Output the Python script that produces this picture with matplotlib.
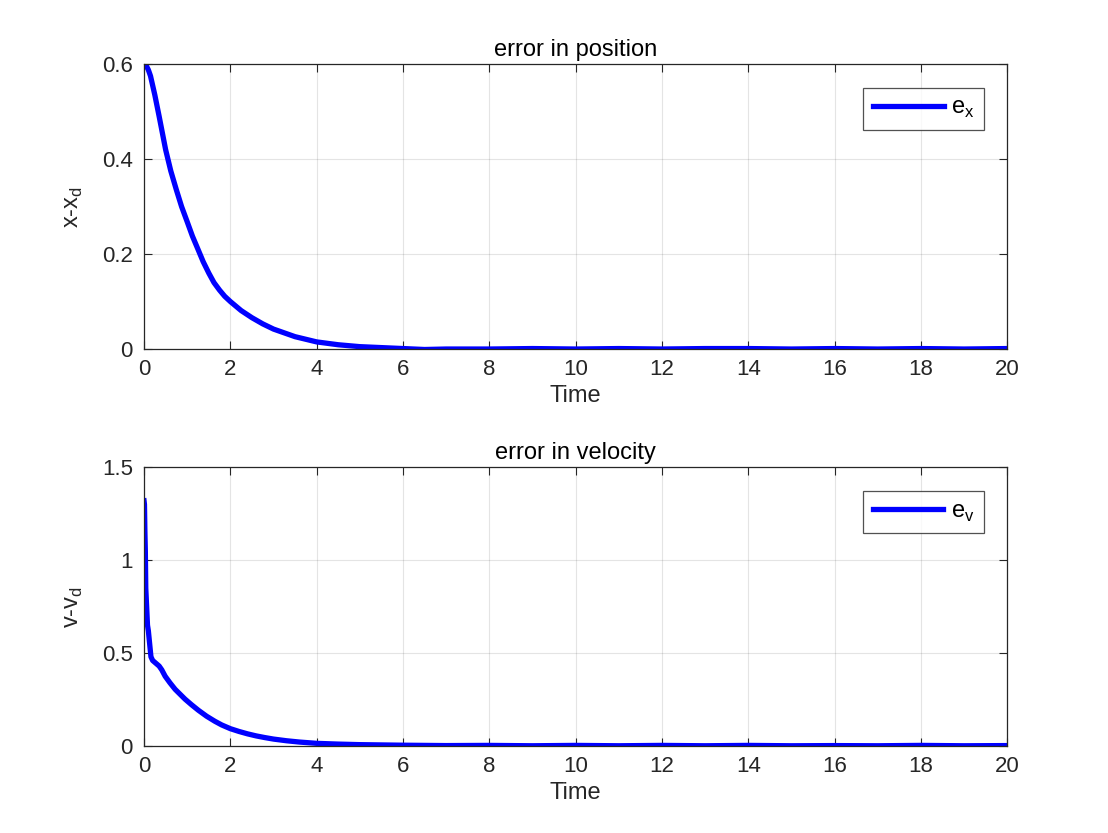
import numpy as np
import matplotlib
matplotlib.use('Agg')
import matplotlib.pyplot as plt

plt.rcParams['font.family'] = ['Liberation Sans', 'DejaVu Sans']
plt.rcParams['mathtext.fontset'] = 'custom'
plt.rcParams['mathtext.rm'] = 'Liberation Sans'

# error in position
t_x = [0, 0.05, 0.1, 0.15, 0.25, 0.35, 0.5, 0.62, 0.75, 0.87, 1.0, 1.12, 1.25,
       1.37, 1.5, 1.62, 1.75, 1.87, 2.0, 2.25, 2.5, 2.75, 3.0, 3.5, 4.0,
       4.5, 5.0, 5.5, 6.0, 6.5, 7, 8, 9, 10, 11, 12, 13, 14, 15, 16, 17, 18, 19, 20]
e_x = [0.6, 0.597, 0.588, 0.575, 0.535, 0.49, 0.42, 0.375, 0.335, 0.3, 0.268,
       0.238, 0.21, 0.184, 0.16, 0.14, 0.124, 0.111, 0.1, 0.081, 0.066,
       0.053, 0.042, 0.026, 0.015, 0.009, 0.005, 0.003, 0.001, -0.001, 0.0,
       0.0, 0.001, 0.0, 0.001, 0.0, 0.001, 0.001, 0.0, 0.001, 0.0, 0.001,
       0.0, 0.001]

# error in velocity
t_v = [0.0, 0.01, 0.02, 0.03, 0.04, 0.06, 0.08, 0.1, 0.13, 0.16, 0.2, 0.25, 0.3,
       0.35, 0.41, 0.49, 0.6, 0.72, 0.85, 0.95, 1.1, 1.26, 1.45, 1.64, 1.8,
       2.0, 2.2, 2.4, 2.6, 2.8, 3.0, 3.3, 3.6, 4.0, 4.5, 5.0, 6, 7, 8, 9, 10,
       11, 12, 13, 14, 15, 16, 17, 18, 19, 20]
e_v = [1.32, 1.3, 1.15, 1.05, 0.85, 0.75, 0.65, 0.62, 0.55, 0.48, 0.46, 0.45,
       0.44, 0.43, 0.41, 0.375, 0.34, 0.305, 0.275, 0.252, 0.222, 0.192,
       0.16, 0.133, 0.113, 0.093, 0.078, 0.065, 0.054, 0.045, 0.037, 0.028,
       0.021, 0.014, 0.01, 0.007, 0.004, 0.002, 0.003, 0.001, 0.003, 0.001,
       0.003, 0.001, 0.003, 0.001, 0.002, 0.001, 0.003, 0.001, 0.002]

blue = '#0000ff'
edge = '#262626'

fig = plt.figure(figsize=(11.08, 8.33), dpi=100)
ax1 = fig.add_axes([0.130, 0.581, 0.779, 0.342])
ax2 = fig.add_axes([0.130, 0.1045, 0.779, 0.3345])

def style(ax, ylim, yticks, yticklabels, ylabel, title, leg):
    ax.set_xlim(0, 20)
    ax.set_ylim(*ylim)
    ax.set_xticks(range(0, 21, 2))
    ax.set_yticks(yticks)
    ax.set_yticklabels(yticklabels)
    ax.grid(True, color='#262626', alpha=0.12, linewidth=0.8)
    ax.tick_params(direction='in', top=True, right=True, length=6,
                   color=edge, labelcolor=edge, labelsize=16)
    ax.tick_params(axis='x', pad=7)
    ax.tick_params(axis='y', pad=8)
    for s in ax.spines.values():
        s.set_color(edge)
        s.set_linewidth(0.9)
    ax.set_xlabel('Time', fontsize=17, color=edge, labelpad=4)
    ax.set_ylabel(ylabel, fontsize=17, color=edge, labelpad=12)
    ax.set_title(title, fontsize=17, color='black', pad=6)
    lg = ax.legend([leg], loc='upper right', fontsize=17, frameon=True,
                   fancybox=False, edgecolor=edge, handlelength=3.0,
                   borderaxespad=1.0, borderpad=0.4, handletextpad=0.3)
    lg.get_frame().set_linewidth(0.9)

ax1.plot(t_x, e_x, color=blue, linewidth=3.8, solid_joinstyle='round')
style(ax1, (0, 0.6), [0, 0.2, 0.4, 0.6], ['0', '0.2', '0.4', '0.6'],
      r'x-x$_\mathregular{d}$', 'error in position', r'e$_\mathregular{x}$')

ax2.plot(t_v, e_v, color=blue, linewidth=3.8, solid_joinstyle='round')
style(ax2, (0, 1.5), [0, 0.5, 1, 1.5], ['0', '0.5', '1', '1.5'],
      r'v-v$_\mathregular{d}$', 'error in velocity', r'e$_\mathregular{v}$')

fig.savefig('out.png', dpi=100)
